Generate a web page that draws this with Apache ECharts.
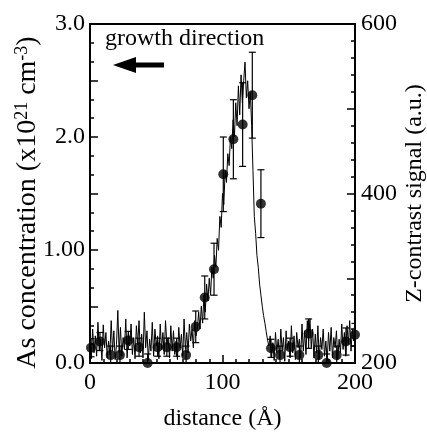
<!DOCTYPE html>
<html>
<head>
<meta charset="utf-8">
<script src="https://cdn.jsdelivr.net/npm/echarts@6/dist/echarts.min.js"></script>
<style>html,body{margin:0;padding:0;background:#fff}#c{width:427px;height:436px}</style>
</head>
<body>
<div id="c"></div>
<script>
// Z-contrast signal (right axis, a.u.), sampled every 1 Å from 0 to 200
const signalX0 = 0, signalStep = 1;
const signalValues = [
225,205,240,212,232,208,248,215,228,203,
245,218,236,206,226,210,250,214,238,204,
222,262,212,242,208,230,216,252,206,236,
220,246,210,230,205,244,222,250,212,234,
206,260,218,238,203,228,214,248,208,240,
220,232,205,246,216,236,210,250,222,230,
206,244,214,238,210,226,204,242,218,234,
208,252,216,236,212,246,226,240,218,250,
232,240,260,240,267,247,280,260,293,273,
300,280,313,300,327,313,347,333,373,360,
400,387,427,413,447,433,467,453,487,467,
507,480,527,493,540,507,533,555,513,533,
500,520,480,427,373,353,327,313,293,280,
267,256,247,237,227,220,232,206,224,203,
236,212,228,205,240,214,230,202,238,216,
226,206,244,212,232,204,236,218,228,206,
246,214,238,210,250,226,252,218,240,206,
234,212,244,204,230,216,240,208,226,202,
236,214,242,206,230,218,238,204,228,212,
246,216,236,208,244,222,250,214,240,226,
254
];
// As concentration points (left axis, x10^21 cm^-3)
const asX   = [0.75,7.5,15.6,22.6,28.9,37,43.5,51,58,65.4,72.5,79.8,86.6,93.6,100.6,108.2,115.2,122.5,129,136.6,143.4,151,158,165,172.3,178.6,186.2,193.2,200];
const asVal = [0.135,0.19,0.07,0.07,0.20,0.14,0.0,0.14,0.14,0.14,0.07,0.32,0.58,0.83,1.67,1.98,2.11,2.37,1.41,0.13,0.07,0.14,0.07,0.26,0.07,0.0,0.07,0.19,0.25];
const asErr = [0.08,0.08,0.08,0.08,0.08,0.08,0.08,0.08,0.08,0.08,0.08,0.14,0.19,0.23,0.33,0.35,0.37,0.38,0.30,0.08,0.08,0.08,0.08,0.13,0.08,0.08,0.08,0.12,0.1];
const leftTickLabels = {0:'0.0',1:'1.00',2:'2.0',3:'3.0'};
const rightTickLabels = {200:'200',400:'400',600:'600'};
const xTickLabels = {0:'0',100:'100',200:'200'};

const signalData = signalValues.map((v,i)=>[signalX0+i*signalStep, v]);
const asData = asX.map((x,i)=>[x, asVal[i]]);
const errData = asX.map((x,i)=>[x, asVal[i]-asErr[i], asVal[i]+asErr[i]]);

const FONT = '"Liberation Serif", "DejaVu Serif", serif';
const chart = echarts.init(document.getElementById('c'), null, {renderer:'canvas'});
const axisLineStyle = {color:'#000', width:2};
chart.setOption({
  animation:false,
  backgroundColor:'#fff',
  grid:{left:90, right:72, top:24, bottom:73, show:true, borderColor:'#000', borderWidth:2,
        backgroundColor:'transparent', containLabel:false, outerBoundsMode:'none'},
  xAxis:{
    type:'value', min:0, max:200, interval:100,
    axisLine:{show:true, lineStyle:axisLineStyle},
    axisTick:{show:true, inside:true, length:8, lineStyle:{color:'#000', width:1.5}},
    minorTick:{show:true, splitNumber:10, length:4, lineStyle:{color:'#000', width:1.5}},
    splitLine:{show:false},
    axisLabel:{margin:8, color:'#000', fontFamily:FONT, fontSize:24, formatter:v=>xTickLabels[v]!==undefined?xTickLabels[v]:''},
    name:'distance (Å)', nameLocation:'middle', nameGap:44, nameMoveOverlap:false,
    nameTextStyle:{color:'#000', fontFamily:FONT, fontSize:24}
  },
  yAxis:[{
    type:'value', min:0, max:3, interval:0.5, position:'left',
    axisLine:{show:true, lineStyle:axisLineStyle},
    axisTick:{show:true, inside:true, length:8, lineStyle:{color:'#000', width:1.5}},
    minorTick:{show:true, splitNumber:3, length:4, lineStyle:{color:'#000', width:1.5}},
    splitLine:{show:false},
    axisLabel:{margin:5, color:'#000', fontFamily:FONT, fontSize:24, formatter:v=>leftTickLabels[v]!==undefined?leftTickLabels[v]:''},
    name:'As concentration (x10{sup|21} cm{sup|-3})', nameLocation:'middle', nameGap:47, nameRotate:90, nameMoveOverlap:false,
    nameTextStyle:{color:'#000', fontFamily:FONT, fontSize:28, padding:[0,18,0,0],
      rich:{sup:{fontSize:18, fontFamily:FONT, color:'#000', verticalAlign:'top', padding:[0,0,12,0]}}}
  },{
    type:'value', min:200, max:600, interval:100, position:'right',
    axisLine:{show:true, lineStyle:axisLineStyle},
    axisTick:{show:true, inside:true, length:8, lineStyle:{color:'#000', width:1.5}},
    minorTick:{show:true, splitNumber:5, length:4, lineStyle:{color:'#000', width:1.5}},
    splitLine:{show:false},
    axisLabel:{margin:6, color:'#000', fontFamily:FONT, fontSize:24, formatter:v=>rightTickLabels[v]!==undefined?rightTickLabels[v]:''},
    name:'Z-contrast signal (a.u.)', nameLocation:'middle', nameGap:48, nameRotate:90, nameMoveOverlap:false,
    nameTextStyle:{color:'#000', fontFamily:FONT, fontSize:24}
  }],
  graphic:[
    {type:'text', left:105, top:27, style:{text:'growth direction', fill:'#000', font:'24px "Liberation Serif", serif'}},
    {type:'polygon', shape:{points:[[113,65],[136,57],[136,62.5],[164,62.5],[164,67.5],[136,67.5],[136,73]]}, style:{fill:'#000'}}
  ],
  series:[
    {type:'line', yAxisIndex:1, data:signalData, showSymbol:false, symbol:'none',
     lineStyle:{color:'#000', width:1}, z:2},
    {type:'custom', yAxisIndex:0, data:errData, z:3, clip:true,
     renderItem:(params, api)=>{
       const x = api.value(0);
       const lo = api.coord([x, api.value(1)]);
       const hi = api.coord([x, api.value(2)]);
       const w = 3.5;
       const st = {stroke:'#000', lineWidth:1.2};
       return {type:'group', children:[
         {type:'line', shape:{x1:lo[0], y1:lo[1], x2:hi[0], y2:hi[1]}, style:st},
         {type:'line', shape:{x1:hi[0]-w, y1:hi[1], x2:hi[0]+w, y2:hi[1]}, style:st},
         {type:'line', shape:{x1:lo[0]-w, y1:lo[1], x2:lo[0]+w, y2:lo[1]}, style:st}
       ]};
     }},
    {type:'scatter', yAxisIndex:0, data:asData, symbol:'circle', symbolSize:10,
     itemStyle:{color:'#000'}, z:4}
  ]
});
</script>
</body>
</html>
